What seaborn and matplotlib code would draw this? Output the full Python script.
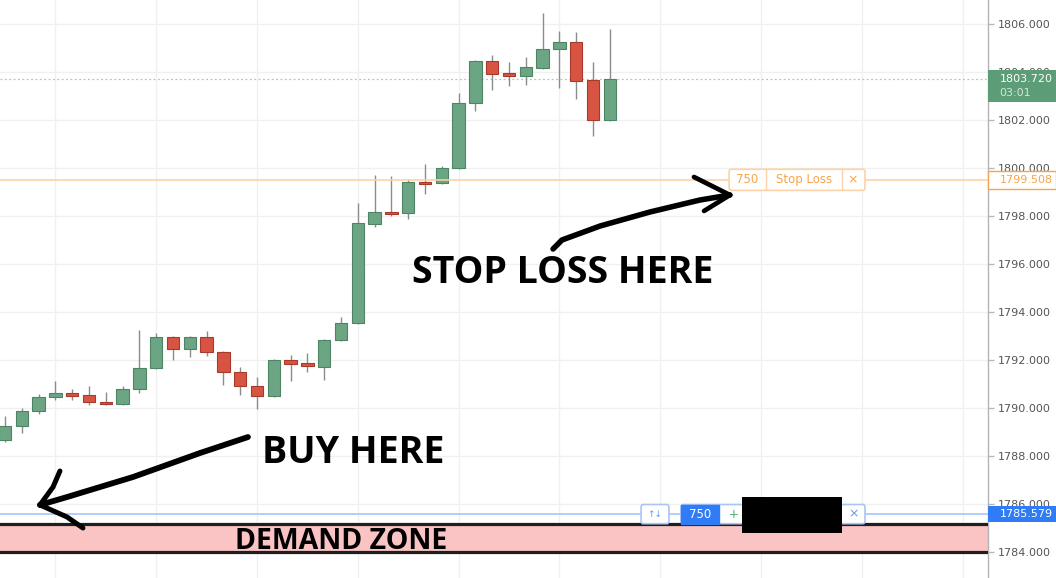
import numpy as np
import pandas as pd
import matplotlib
matplotlib.use("Agg")
import matplotlib.pyplot as plt
import seaborn as sns
from matplotlib.patches import Rectangle, FancyBboxPatch
from matplotlib.transforms import blended_transform_factory

# ---- price data (one candle per bar) ----
opens = [1788.67, 1789.25, 1789.88, 1790.46, 1790.63, 1790.54, 1790.25, 1790.17, 1790.79, 1791.67,
         1792.96, 1792.46, 1792.96, 1792.33, 1791.50, 1790.92, 1790.50, 1792.00, 1791.88, 1791.71,
         1792.83, 1793.54, 1797.67, 1798.17, 1798.13, 1799.42, 1799.38, 1800.00, 1802.71, 1804.46,
         1803.96, 1803.83, 1804.17, 1804.96, 1805.25, 1803.67, 1802.00]
closes = [1789.25, 1789.88, 1790.46, 1790.63, 1790.50, 1790.25, 1790.17, 1790.79, 1791.67, 1792.96,
          1792.46, 1792.96, 1792.33, 1791.50, 1790.92, 1790.50, 1792.00, 1791.83, 1791.75, 1792.83,
          1793.54, 1797.71, 1798.17, 1798.10, 1799.42, 1799.35, 1800.00, 1802.71, 1804.46, 1803.92,
          1803.83, 1804.21, 1804.96, 1805.25, 1803.63, 1802.00, 1803.72]
highs = [1789.67, 1790.00, 1790.58, 1791.13, 1790.79, 1790.92, 1790.67, 1790.92, 1793.25, 1793.13,
         1793.00, 1793.00, 1793.21, 1792.38, 1791.71, 1791.29, 1792.04, 1792.21, 1792.29, 1792.88,
         1793.79, 1798.54, 1799.71, 1799.67, 1799.54, 1800.17, 1800.08, 1803.13, 1804.50, 1804.71,
         1804.42, 1804.63, 1806.46, 1805.71, 1805.67, 1804.42, 1805.79]
lows = [1788.58, 1788.96, 1789.75, 1790.33, 1790.33, 1790.13, 1790.13, 1790.13, 1790.63, 1791.63,
        1792.00, 1792.13, 1792.17, 1790.96, 1790.54, 1789.96, 1790.46, 1791.13, 1791.50, 1791.17,
        1792.79, 1793.50, 1797.54, 1798.00, 1797.88, 1798.92, 1799.33, 1799.96, 1802.38, 1803.25,
        1803.42, 1803.46, 1804.13, 1803.33, 1802.88, 1801.33, 1801.96]

y_ticks = [1784, 1786, 1788, 1790, 1792, 1794, 1796, 1798, 1800, 1802, 1804, 1806]

last_price = 1803.720
bar_timer = "03:01"
stop_price = 1799.508
entry_price = 1785.579
order_qty = "750"
zone_low = 1784.0
zone_high = 1785.17

# ---- colours ----
UP = "#6ba583"
UP_EDGE = "#4d8463"
DOWN = "#d75442"
DOWN_EDGE = "#a83a2b"
WICK = "#8c8c8c"
ORANGE = "#f7a44c"
ORANGE_LIGHT = "#fdd2a6"
BLUE = "#2f7cf6"
BLUE_LIGHT = "#a9c5f8"
GRID = "#f0f0f0"

sns.set_theme(style="white")
plt.rcParams["font.family"] = ["DejaVu Sans"]

df = pd.DataFrame({"open": opens, "high": highs, "low": lows, "close": closes})
df["idx"] = np.arange(len(df))
df["up"] = df["close"] >= df["open"]
df["body_lo"] = df[["open", "close"]].min(axis=1)
df["body_h"] = (df["close"] - df["open"]).abs()

fig = plt.figure(figsize=(10.56, 5.78), dpi=100)
fig.patch.set_facecolor("white")
ax = fig.add_axes([0, 0, 988 / 1056, 1])
ax.set_facecolor("white")

# wicks then bodies
ax.vlines(df["idx"], df["low"], df["high"], color=WICK, lw=1.0, zorder=3)
for is_up, face, edge in [(True, UP, UP_EDGE), (False, DOWN, DOWN_EDGE)]:
    sub = df[df["up"] == is_up]
    ax.bar(sub["idx"], sub["body_h"], bottom=sub["body_lo"], width=0.74,
           color=face, edgecolor=edge, linewidth=0.8, zorder=4)

ax.set_xlim(-0.298, 58.51)
ax.set_ylim(1782.917, 1807.0)

# grid
ax.set_yticks(y_ticks)
ax.set_yticklabels([f"{v:.3f}" for v in y_ticks])
ax.set_xticks(np.arange(3, 58, 6))
ax.set_xticklabels([])
ax.grid(True, color=GRID, lw=1.0, zorder=0)
ax.set_axisbelow(True)
ax.yaxis.tick_right()
ax.tick_params(axis="y", length=4, width=1, color="#b8b8b8", labelsize=8,
               labelcolor="#555555", pad=3, right=True, left=False)
ax.tick_params(axis="x", length=0)
for side in ["left", "top", "bottom"]:
    ax.spines[side].set_visible(False)
ax.spines["right"].set_color("#b4b4b4")
ax.spines["right"].set_linewidth(1.0)

# price lines
ax.axhline(last_price, color="#a3cfb4", lw=0.9, ls=(0, (1.5, 2)), zorder=2)
ax.axhline(stop_price, color=ORANGE_LIGHT, lw=1.3, alpha=0.9, zorder=5)
ax.axhline(entry_price, color=BLUE_LIGHT, lw=1.2, zorder=5)

# demand zone
ax.axhspan(zone_low, zone_high, color="#f9c4c3", zorder=1, lw=0)
ax.axhline(zone_high, color="#1e1e1e", lw=2.3, zorder=6)
ax.axhline(zone_low, color="#1e1e1e", lw=2.3, zorder=6)
ax.text(20.03, 1784.42, "DEMAND ZONE", ha="center", va="center",
        fontsize=20.5, fontweight="bold", family=["Open Sans", "DejaVu Sans"], color="black", zorder=7)

# stop-loss order label
sl_l, sl_r, sl_h = 43.1, 51.19, 0.88
ax.add_patch(FancyBboxPatch((sl_l, stop_price - sl_h / 2), sl_r - sl_l, sl_h,
                            boxstyle="round,pad=0,rounding_size=0.12",
                            facecolor="white", edgecolor=ORANGE_LIGHT, lw=1.2, zorder=8))
for xs in (45.3, 49.8):
    ax.plot([xs, xs], [stop_price - sl_h / 2, stop_price + sl_h / 2], color=ORANGE_LIGHT, lw=1.0, zorder=9)
ax.text(44.2, stop_price, order_qty, ha="center", va="center", fontsize=8.5, color=ORANGE, zorder=9)
ax.text(47.55, stop_price, "Stop Loss", ha="center", va="center", fontsize=8.5, color=ORANGE, zorder=9)
ax.text(50.45, stop_price, "×", ha="center", va="center", fontsize=9, color=ORANGE, zorder=9)

# entry order label
eh = 0.8
ax.add_patch(FancyBboxPatch((37.86, entry_price - eh / 2), 1.66, eh,
                            boxstyle="round,pad=0,rounding_size=0.12",
                            facecolor="white", edgecolor=BLUE_LIGHT, lw=1.2, zorder=8))
ax.text(38.69, entry_price, "↑↓", ha="center", va="center", fontsize=6.5, color="#6a98ec", zorder=9)
ax.add_patch(FancyBboxPatch((40.24, entry_price - eh / 2), 10.95, eh,
                            boxstyle="round,pad=0,rounding_size=0.12",
                            facecolor="white", edgecolor=BLUE_LIGHT, lw=1.2, zorder=8))
ax.add_patch(Rectangle((40.24, entry_price - eh / 2), 2.26, eh, facecolor=BLUE, edgecolor=BLUE,
                       lw=1.0, zorder=9))
ax.text(41.37, entry_price, order_qty, ha="center", va="center", fontsize=8.5, color="white", zorder=10)
ax.text(43.4, entry_price, "+", ha="center", va="center", fontsize=8.5, color="#4caf74", zorder=10)
ax.text(50.5, entry_price, "×", ha="center", va="center", fontsize=9, color="#6a98ec", zorder=10)
ax.add_patch(Rectangle((43.87, 1784.79), 5.95, 1.5, facecolor="black", edgecolor="none", zorder=11))

# price tags on the right scale
tr = blended_transform_factory(ax.transAxes, ax.transData)
tag_w = 1056 / 988 - 1.0
ax.add_patch(Rectangle((1.0, 1802.75), tag_w, 1.333, transform=tr, clip_on=False,
                       facecolor="#5c9c77", edgecolor="none", zorder=12))
ax.text(1.0115, last_price, f"{last_price:.3f}", transform=tr, ha="left", va="center",
        fontsize=8, color="white", zorder=13)
ax.text(1.0115, 1803.13, bar_timer, transform=tr, ha="left", va="center",
        fontsize=8, color="#d3e8db", zorder=13)
ax.add_patch(Rectangle((1.0, stop_price - 0.375), tag_w, 0.75, transform=tr, clip_on=False,
                       facecolor="white", edgecolor=ORANGE, lw=1.0, zorder=12))
ax.text(1.0115, stop_price, f"{stop_price:.3f}", transform=tr, ha="left", va="center",
        fontsize=8, color=ORANGE, zorder=13)
ax.add_patch(Rectangle((1.0, entry_price - 0.32), tag_w, 0.64, transform=tr, clip_on=False,
                       facecolor=BLUE, edgecolor="none", zorder=12))
ax.text(1.0115, entry_price, f"{entry_price:.3f}", transform=tr, ha="left", va="center",
        fontsize=8, color="white", zorder=13)

# hand-drawn style notes
note_font = dict(fontsize=27, fontweight="bold", family=["Open Sans", "DejaVu Sans"], color="black", zorder=14)
ax.text(33.2, 1795.63, "STOP LOSS HERE", ha="center", va="center", **note_font)
ax.text(20.74, 1788.12, "BUY HERE", ha="center", va="center", **note_font)

pen = dict(color="black", solid_capstyle="round", solid_joinstyle="round", zorder=14)
# arrow toward the entry
ax.plot([14.46, 11.61, 7.62, 3.69, 2.08], [1788.79, 1788.125, 1787.125, 1786.29, 1785.96], lw=4.2, **pen)
ax.plot([3.27, 2.86, 2.08], [1787.375, 1786.71, 1785.96], lw=3.6, **pen)
ax.plot([2.08, 3.69, 4.64], [1785.96, 1785.46, 1785.0], lw=3.6, **pen)
# arrow toward the stop loss
ax.plot([32.62, 33.15, 35.42, 38.39, 41.37, 43.15],
        [1796.625, 1797.0, 1797.583, 1798.167, 1798.667, 1798.875], lw=4.0, **pen)
ax.plot([41.01, 43.15], [1799.625, 1798.875], lw=3.4, **pen)
ax.plot([43.15, 41.61], [1798.875, 1798.21], lw=3.4, **pen)

fig.savefig("out.png", dpi=100, facecolor="white")
